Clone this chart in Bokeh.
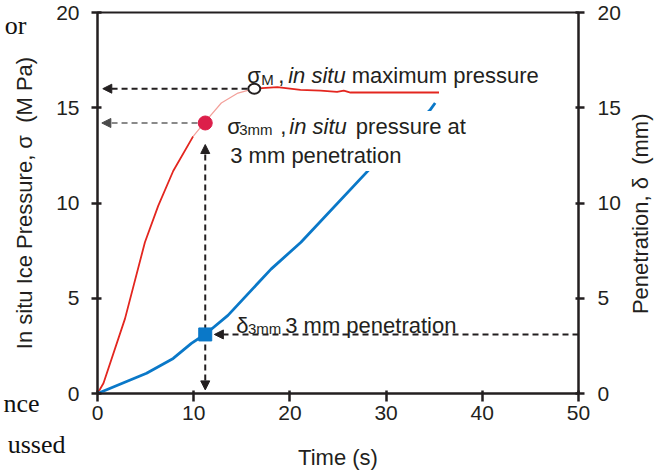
import math
from bokeh.plotting import figure
from bokeh.models import Range1d, LinearAxis, Label, Arrow, NormalHead, FixedTicker
from bokeh.embed import file_html
from bokeh.resources import INLINE

# ---------------- data ----------------
time_red = [0.0, 0.62, 2.86, 4.93, 6.31, 7.87, 9.94, 11.14, 12.87, 14.6, 16.3,
            18.7, 21.1, 23.2, 24.9, 25.6, 26.3, 35.5]
pressure = [0.0, 0.54, 3.93, 7.94, 9.85, 11.68, 13.5, 14.23, 15.25, 15.77, 16.0,
            16.08, 15.94, 15.9, 15.83, 15.9, 15.8, 15.8]

time_blue = [0.0, 5.1, 7.87, 9.76, 11.3, 13.56, 18.04, 21.15, 29.4, 34.6, 35.1]
penetration = [0.0, 1.06, 1.84, 2.63, 3.15, 4.1, 6.53, 7.94, 12.38, 14.9, 15.25]

x_ticks = [0, 10, 20, 30, 40, 50]
y_ticks = [0, 5, 10, 15, 20]

t_3mm = 11.2        # time at 3 mm penetration
sigma_3mm = 14.2    # pressure at 3 mm penetration
delta_3mm = 3.1     # 3 mm penetration point
t_max = 16.3        # time of maximum pressure
sigma_max = 16.0    # maximum pressure

# fragments of the surrounding page text (cropped from the source page)
NB = "\u00a0"
frag_pos = [19.34, 0.56]
frag_text = ["or" + NB * 6, "\n".join([NB, NB, "nce" + NB * 4, "ussed"])]

FONT = "Liberation Sans"
SERIF = "Liberation Serif"
INK = "#231f20"
RED = "#e3261f"
PALE_RED = "#f3a09a"
BLUE = "#0a78c8"
DOT_RED = "#dc1f4a"

p = figure(width=668, height=472, x_range=Range1d(0, 50), y_range=Range1d(0, 20),
           output_backend="svg", toolbar_location=None,
           min_border_left=96, min_border_right=89, min_border_top=12, min_border_bottom=77)
p.extra_y_ranges = {"pen": Range1d(0, 20)}
p.grid.visible = False
p.outline_line_color = INK
p.outline_line_width = 2
p.background_fill_color = "white"
p.border_fill_color = "white"

def style_axis(ax, tin, tout, standoff, label_standoff):
    ax.axis_line_color = INK
    ax.axis_line_width = 2
    ax.major_tick_line_color = INK
    ax.major_tick_line_width = 2.5
    ax.major_tick_in = tin
    ax.major_tick_out = tout
    ax.minor_tick_line_color = None
    ax.major_label_text_font = FONT
    ax.major_label_text_font_size = "21px"
    ax.major_label_text_color = INK
    ax.major_label_standoff = standoff
    ax.axis_label_text_font = FONT
    ax.axis_label_text_font_size = "22px"
    ax.axis_label_text_font_style = "normal"
    ax.axis_label_text_color = INK
    ax.axis_label_standoff = label_standoff

p.xaxis.ticker = FixedTicker(ticks=x_ticks)
p.xaxis.axis_label = "Time (s)"
style_axis(p.xaxis[0], 3, 8, 4, 22)

p.yaxis.ticker = FixedTicker(ticks=y_ticks)
p.yaxis.axis_label = "In situ Ice Pressure, σ" + NB + NB + "(M" + NB + "Pa)"
style_axis(p.yaxis[0], 4, 6, 12, 16)

right_label = "Penetration, δ" + NB + NB + "(mm)"
rax = LinearAxis(y_range_name="pen", ticker=FixedTicker(ticks=y_ticks))
style_axis(rax, 3, 6, 13, 17)
rax.axis_label_text_line_height = 1.0
rax.axis_label_orientation = math.pi / 2
if "axis_label_align" in LinearAxis.properties():
    rax.axis_label_align = "start"
    rax.axis_label = NB * 13 + right_label
else:
    rax.axis_label = right_label
p.add_layout(rax, "right")

# page-text fragments: an unlined outer axis on the left carries them
fax = LinearAxis(ticker=FixedTicker(ticks=frag_pos),
                 major_label_overrides={k: t for k, t in zip(frag_pos, frag_text)})
fax.axis_line_color = None
fax.major_tick_line_color = None
fax.minor_tick_line_color = None
fax.major_tick_in = 0
fax.major_tick_out = 0
fax.major_label_standoff = -56
fax.major_label_text_font = SERIF
fax.major_label_text_font_size = "26px"
fax.major_label_text_line_height = 1.42
fax.major_label_text_color = "#111111"
p.add_layout(fax, "left")

# ---------------- arrows (under the glyphs) ----------------
def arrow(x0, y0, x1, y1, color, head_color, both=False):
    head = lambda: NormalHead(size=9, fill_color=head_color, line_color=head_color, line_width=1)
    a = Arrow(x_start=x0, y_start=y0, x_end=x1, y_end=y1, end=head(),
              start=head() if both else None,
              line_color=color, line_width=2, line_dash="6 4", level="underlay")
    p.add_layout(a)

arrow(t_max - 0.7, sigma_max, 0.55, sigma_max, INK, INK)
arrow(t_3mm - 0.8, sigma_3mm, 0.45, sigma_3mm, "#8a8a8a", "#4a4a4a")
arrow(t_3mm, 13.07, t_3mm, 0.19, INK, INK, both=True)
arrow(50, delta_3mm, t_3mm + 0.95, delta_3mm, INK, INK)

# ---------------- curves ----------------
i_a = time_red.index(9.94)
i_b = time_red.index(t_max)
p.line(time_red[:i_a + 1], pressure[:i_a + 1], line_color=RED, line_width=1.8)
p.line(time_red[i_a:i_b + 1], pressure[i_a:i_b + 1], line_color=PALE_RED, line_width=1.2)
p.line(time_red[i_b:], pressure[i_b:], line_color=RED, line_width=1.8)

p.line(time_blue, penetration, line_color=BLUE, line_width=2.8, y_range_name="pen")

p.scatter([t_3mm], [sigma_3mm], size=14, color=DOT_RED)
p.scatter([t_3mm], [delta_3mm], marker="square", size=13, color=BLUE, y_range_name="pen")
p.ellipse([t_max], [sigma_max], width=12, height=10, width_units="screen",
          height_units="screen", fill_color="white", line_color=INK, line_width=2)

# ---------------- annotation texts ----------------
def lab(x, y, text, dx=0, dy=0, size=22, style="normal", bg=None):
    kw = {}
    if bg:
        kw.update(background_fill_color=bg, padding=3)
    p.add_layout(Label(x=x, y=y, x_offset=dx, y_offset=dy, text=text, text_font=FONT,
                       text_font_size=f"{size}px", text_font_style=style,
                       text_color=INK, text_align="left", text_baseline="alphabetic", **kw))

# sigma_M, in situ maximum pressure
ax1, ay1 = 15.56, 16.67
lab(ax1, ay1, "σ")
lab(ax1, ay1, "M", dx=14, dy=-4, size=15)
lab(ax1, ay1, ",", dx=31)
lab(ax1, ay1, "in situ", dx=41, style="italic")
lab(ax1, ay1, "maximum pressure", dx=104.6)

# sigma_3mm, in situ pressure at 3 mm penetration
ax2, ay2, ay2b = 13.49, 14.01, 12.5
lab(ax2, ay2, "pressure at", dx=125.6, bg="white")
lab(ax2, ay2b, "3 mm penetration", bg="white")
lab(ax2, ay2, "σ")
lab(ax2, ay2, "3mm", dx=12, dy=-3, size=15)
lab(ax2, ay2, ",", dx=53)
lab(ax2, ay2, "in situ", dx=62, style="italic")

# delta_3mm 3 mm penetration
ax3, ay3 = 14.42, 3.57
lab(ax3, ay3, "δ")
lab(ax3, ay3, "3mm", dx=11.7, dy=-3, size=15)
lab(ax3, ay3, "3 mm penetration", dx=49)

open("out.html", "w").write(file_html(p, INLINE))
